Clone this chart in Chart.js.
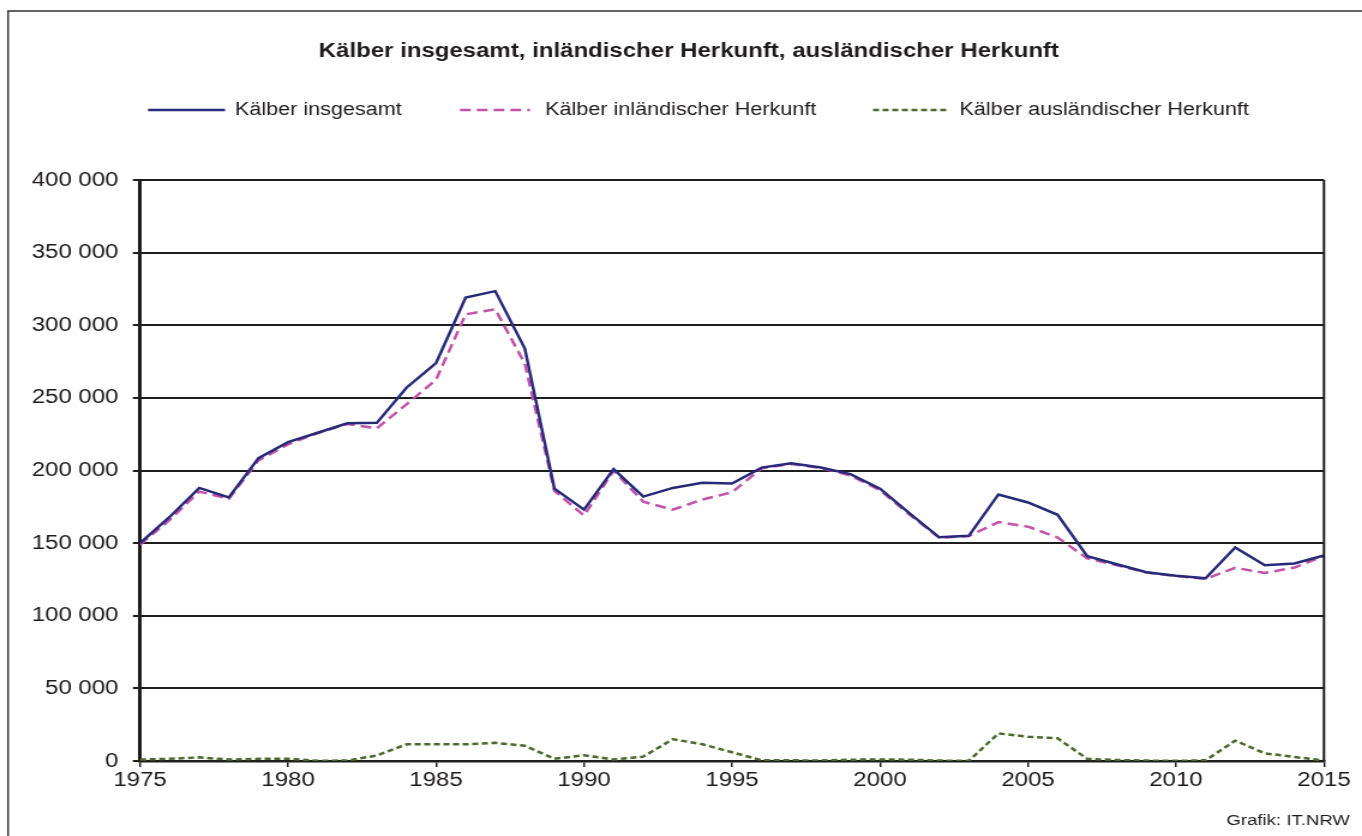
<!DOCTYPE html>
<html lang="de">
<head>
<meta charset="UTF-8">
<title>Kälber insgesamt, inländischer Herkunft, ausländischer Herkunft</title>
<script src="https://cdn.jsdelivr.net/npm/chart.js@4"></script>
<style>
  html, body { margin: 0; padding: 0; background: #fff; overflow: hidden; }
  /* die Vorlage ist horizontal gestreckt, daher schmaler zeichnen und strecken */
  #wrap { width: 1135px; height: 836px; transform: scaleX(1.2); transform-origin: 0 0; }
</style>
</head>
<body>
<div id="wrap"><canvas id="chart" width="1135" height="836"></canvas></div>
<script>
    // Daten
    const years = [1975, 1976, 1977, 1978, 1979, 1980, 1981, 1982, 1983, 1984,
                   1985, 1986, 1987, 1988, 1989, 1990, 1991, 1992, 1993, 1994,
                   1995, 1996, 1997, 1998, 1999, 2000, 2001, 2002, 2003, 2004,
                   2005, 2006, 2007, 2008, 2009, 2010, 2011, 2012, 2013, 2014, 2015];

    const insgesamt = [150000, 168000, 188000, 181500, 208500, 219500, 226000, 232500, 232800, 257000,
                       274000, 319000, 323500, 284000, 187500, 173000, 201000, 182000, 188000, 191500,
                       191000, 202000, 205000, 202000, 197500, 187500, 170500, 154000, 155000, 183500,
                       178000, 169500, 141000, 135500, 130000, 127500, 125800, 147000, 134800, 136000, 141500];

    const inlaendisch = [149000, 166000, 185500, 180500, 207000, 218000, 225800, 232000, 229000, 245500,
                         262500, 307500, 311000, 273500, 186000, 169000, 200000, 178500, 173000, 180000,
                         185000, 201500, 204500, 201700, 196600, 186400, 169600, 153700, 154900, 164500,
                         161300, 153900, 139500, 134800, 129700, 127400, 125300, 133000, 129500, 133200, 141200];

    const auslaendisch = [1000, 1500, 2500, 1000, 1500, 1500, 200, 300, 3800, 11500,
                          11500, 11500, 12500, 10500, 1500, 4000, 1000, 3000, 15000, 11500,
                          6000, 500, 500, 300, 900, 1100, 900, 300, 100, 19000,
                          16700, 15600, 1500, 700, 300, 100, 500, 14000, 5300, 2800, 300];

    const xTicks = [1975, 1980, 1985, 1990, 1995, 2000, 2005, 2010, 2015];
    const yTicks = [0, 50000, 100000, 150000, 200000, 250000, 300000, 350000, 400000];

    const seriesNames = ['Kälber insgesamt', 'Kälber inländischer Herkunft', 'Kälber ausländischer Herkunft'];
    const seriesColors = ['#272a78', '#c353aa', '#4b6a2b'];
    const seriesDash = [[], [9, 5], [5, 3]];

    const textColor = '#1f1b1c';
    const lineColor = '#1e1e1e';

    function toPoints(values) {
        return values.map((v, i) => ({ x: years[i], y: v }));
    }

    function formatThousands(v) {
        return String(v).replace(/\B(?=(\d{3})+(?!\d))/g, ' ');
    }

    // Rahmen, Titel, Legende, Quelle
    const decorPlugin = {
        id: 'decor',
        beforeDraw(chart) {
            const ctx = chart.ctx;
            ctx.save();
            ctx.fillStyle = '#fff';
            ctx.fillRect(0, 0, chart.width, chart.height);
            ctx.restore();
        },
        afterDraw(chart) {
            const ctx = chart.ctx;
            const area = chart.chartArea;
            ctx.save();

            // äußerer Rahmen
            ctx.strokeStyle = '#333';
            ctx.lineWidth = 1.5;
            ctx.strokeRect(6.7, 11, chart.width + 20, chart.height + 20);

            // rechte Begrenzung der Zeichenfläche
            ctx.strokeStyle = lineColor;
            ctx.lineWidth = 2;
            ctx.beginPath();
            ctx.moveTo(area.right, area.top);
            ctx.lineTo(area.right, area.bottom);
            ctx.stroke();

            // Titel
            ctx.fillStyle = textColor;
            ctx.font = 'bold 20px "Liberation Sans", Arial, sans-serif';
            ctx.textAlign = 'center';
            ctx.textBaseline = 'middle';
            ctx.fillText('Kälber insgesamt, inländischer Herkunft, ausländischer Herkunft', 574, 51);

            // Legende
            const legendX = [[123.3, 187.5, 195.8], [383.3, 441.7, 454.2], [727.5, 790, 799.6]];
            const legendY = 110;
            ctx.font = '18px "Liberation Sans", Arial, sans-serif';
            ctx.textAlign = 'left';
            for (let i = 0; i < seriesNames.length; i++) {
                ctx.strokeStyle = seriesColors[i];
                ctx.lineWidth = 2.5;
                ctx.setLineDash(seriesDash[i]);
                ctx.beginPath();
                ctx.moveTo(legendX[i][0], legendY);
                ctx.lineTo(legendX[i][1], legendY);
                ctx.stroke();
                ctx.setLineDash([]);
                ctx.fillStyle = textColor;
                ctx.fillText(seriesNames[i], legendX[i][2], legendY);
            }

            // Quelle
            ctx.font = '15.5px "Liberation Sans", Arial, sans-serif';
            ctx.textAlign = 'right';
            ctx.fillText('Grafik: IT.NRW', 1125, 821);

            ctx.restore();
        }
    };

    Chart.defaults.font.family = '"Liberation Sans", Arial, sans-serif';
    Chart.defaults.color = textColor;

    const datasets = [insgesamt, inlaendisch, auslaendisch].map((values, i) => ({
        label: seriesNames[i],
        data: toPoints(values),
        borderColor: seriesColors[i],
        borderWidth: 2.5,
        borderDash: seriesDash[i],
        pointRadius: 0,
        tension: 0,
        fill: false,
        order: i   // Gesamtlinie oben
    }));

    new Chart(document.getElementById('chart'), {
        type: 'line',
        data: { datasets: datasets },
        options: {
            responsive: false,
            animation: false,
            devicePixelRatio: 1,
            layout: { padding: { top: 180, right: 31.7, left: 0, bottom: 0 } },
            plugins: {
                legend: { display: false },
                title: { display: false },
                tooltip: { enabled: false }
            },
            scales: {
                x: {
                    type: 'linear',
                    min: xTicks[0],
                    max: xTicks[xTicks.length - 1],
                    afterBuildTicks: (scale) => { scale.ticks = xTicks.map(v => ({ value: v })); },
                    afterFit: (scale) => { scale.height = 75; },
                    grid: { drawOnChartArea: false, drawTicks: true, tickLength: 6, color: lineColor, lineWidth: 1.5 },
                    border: { display: true, color: lineColor, width: 2.5 },
                    ticks: {
                        callback: (v) => String(v),
                        font: { size: 20 },
                        color: textColor,
                        padding: 1,
                        maxRotation: 0,
                        autoSkip: false
                    }
                },
                y: {
                    min: yTicks[0],
                    max: yTicks[yTicks.length - 1],
                    afterBuildTicks: (scale) => { scale.ticks = yTicks.map(v => ({ value: v })); },
                    afterFit: (scale) => { scale.width = 116.7; },
                    grid: { color: lineColor, lineWidth: 2, tickLength: 6, drawTicks: true },
                    border: { display: true, color: lineColor, width: 3 },
                    ticks: {
                        callback: (v) => formatThousands(v),
                        font: { size: 20 },
                        color: textColor,
                        padding: 12
                    }
                }
            }
        },
        plugins: [decorPlugin]
    });
</script>
</body>
</html>
